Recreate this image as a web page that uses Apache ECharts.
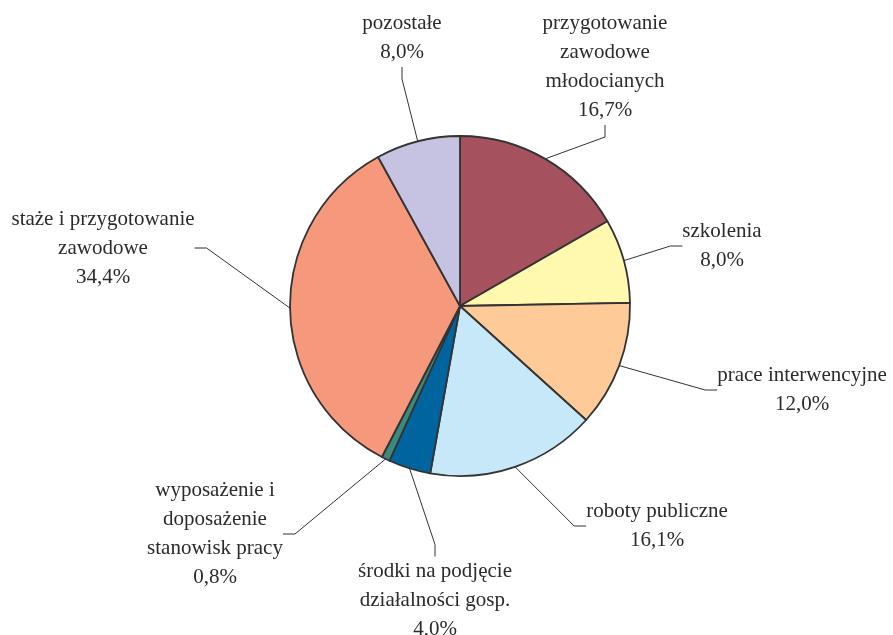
<!DOCTYPE html>
<html>
<head>
<meta charset="utf-8">
<script src="https://cdn.jsdelivr.net/npm/echarts@6/dist/echarts.min.js"></script>
<style>html,body{margin:0;padding:0;background:#fff}#c{width:893px;height:635px}</style>
</head>
<body>
<div id="c"></div>
<script>
const categories = [
  "przygotowanie\nzawodowe\nmłodocianych",
  "szkolenia",
  "prace interwencyjne",
  "roboty publiczne",
  "środki na podjęcie\ndziałalności gosp.",
  "wyposażenie i\ndoposażenie\nstanowisk pracy",
  "staże i przygotowanie\nzawodowe",
  "pozostałe"
];
const values = [16.7, 8.0, 12.0, 16.1, 4.0, 0.8, 34.4, 8.0];
const colors = ["#A6525E", "#FFF8AF", "#FECB98", "#C7E8F8", "#00659E", "#3B8A7E", "#F5987B", "#C6C3E2"];
const labelPos = [[605, 67], [722, 246], [802, 390], [657, 526], [435, 600], [215, 534], [103, 248], [402, 38]];

const chart = echarts.init(document.getElementById('c'));
chart.setOption({
  backgroundColor: '#fff',
  animation: false,
  series: [{
    type: 'pie',
    center: [460, 306],
    radius: 170,
    startAngle: 90,
    clockwise: true,
    avoidLabelOverlap: false,
    data: categories.map((n, i) => ({ name: n, value: values[i], itemStyle: { color: colors[i] } })),
    itemStyle: { borderColor: '#333', borderWidth: 1.8 },
    label: {
      show: true,
      position: 'outside',
      fontFamily: 'Liberation Serif',
      fontSize: 21,
      lineHeight: 29,
      color: '#2b2b2b',
      align: 'center',
      formatter: p => p.name + '\n' + p.value.toFixed(1).replace('.', ',') + '%'
    },
    labelLine: { show: true, length: 20, length2: 12, lineStyle: { color: '#333', width: 1 } },
    labelLayout: p => ({ x: labelPos[p.dataIndex][0], y: labelPos[p.dataIndex][1], align: 'center', verticalAlign: 'middle' }),
    emphasis: { disabled: true }
  }]
});
</script>
</body>
</html>
